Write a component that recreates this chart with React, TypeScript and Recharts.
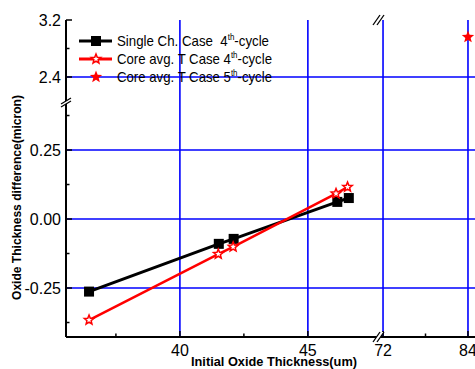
import React from "react";
import { ScatterChart, Scatter, XAxis, YAxis, ReferenceLine, Legend } from "recharts";

// measured values (x: initial oxide thickness um, y: difference micron)
const singleX = [36.45, 41.52, 42.1, 46.15, 46.6];
const singleY = [-0.263, -0.09, -0.072, 0.062, 0.076];
const core4X = [36.45, 41.5, 42.08, 46.1, 46.55];
const core4Y = [-0.366, -0.127, -0.101, 0.092, 0.116];
const core5X = [84];
const core5Y = [2.96];

const seriesNames = [
  ["Single Ch. Case  4", "th", "-cycle"],
  ["Core avg. T Case 4", "th", "-cycle"],
  ["Core avg. T Case 5", "th", "-cycle"],
];

const lowYMajor = [-0.25, 0, 0.25];
const lowYMinor = [-0.375, -0.125, 0.125, 0.375];
const upYMajor = [2.4, 3.2];
const upYMinor = [2.8];
const leftXMajor = [40, 45];
const leftXMinor = [37.5, 42.5];
const rightXMajor = [72, 84];
const rightXMinor = [78];

const leftXDomain = [35.55, 47.74];
const rightXDomain = [71.29, 85.98];
const lowYDomain = [-0.4275, 0.4276];
const upYDomain = [2.063, 3.2];

const FONT = "'Liberation Sans', Arial, sans-serif";
const W = 490;
const H = 369;
const BLUE = "#0000ff";

const zip = (xs: number[], ys: number[]) => xs.map((x, i) => ({ x, y: ys[i] }));
const singleData = zip(singleX, singleY);
const core4Data = zip(core4X, core4Y);
const core5Data = zip(core5X, core5Y);

function starPath(cx: number, cy: number, R: number, r: number) {
  let d = "";
  for (let i = 0; i < 10; i++) {
    const a = -Math.PI / 2 + (i * Math.PI) / 5;
    const rad = i % 2 === 0 ? R : r;
    d += (i === 0 ? "M" : "L") + (cx + rad * Math.cos(a)).toFixed(2) + "," + (cy + rad * Math.sin(a)).toFixed(2);
  }
  return d + "Z";
}

const Square = (p: any) => <rect x={p.cx - 5} y={p.cy - 5} width={10} height={10} fill="#000" />;
const HollowStar = (p: any) => (
  <path d={starPath(p.cx, p.cy, 5, 2.2)} fill="#fff" stroke="#ff0000" strokeWidth={1.5} />
);
const FullStar = (p: any) => <path d={starPath(p.cx, p.cy, 6.5, 2.8)} fill="#ff0000" />;

function yTick(major: number[], digits: number) {
  return (props: any) => {
    const { x, y, payload } = props;
    const isMajor = major.includes(payload.value);
    return (
      <g>
        <line x1={x} x2={x + (isMajor ? 6 : 3.5)} y1={y} y2={y} stroke="#000" strokeWidth={1.5} />
        {isMajor && (
          <text x={x - 5} y={y} dy="0.36em" textAnchor="end" fontSize={16} fontFamily={FONT} fill="#000">
            {payload.value.toFixed(digits)}
          </text>
        )}
      </g>
    );
  };
}

function xTick(major: number[], top: boolean) {
  return (props: any) => {
    const { x, y, payload } = props;
    const isMajor = major.includes(payload.value);
    const len = isMajor ? 6 : 3.5;
    return (
      <g>
        <line x1={x} x2={x} y1={y} y2={top ? y + len : y - len} stroke="#000" strokeWidth={1.5} />
        {isMajor && !top && (
          <text x={x} y={y + 19} textAnchor="middle" fontSize={16} fontFamily={FONT} fill="#000">
            {payload.value}
          </text>
        )}
      </g>
    );
  };
}

const axisLine = { stroke: "#000", strokeWidth: 2 };
const gridProps = { stroke: BLUE, strokeWidth: 1.6 };

function LegendBox() {
  const lens = [152, 155, 155];
  return (
    <svg width={220} height={56} style={{ display: "block", overflow: "visible" }}>
      {seriesNames.map((parts, i) => {
        const cy = 9 + i * 18;
        return (
          <g key={i}>
            {i === 0 && <line x1={0} x2={33} y1={cy} y2={cy} stroke="#000" strokeWidth={3} />}
            {i === 1 && <line x1={0} x2={33} y1={cy} y2={cy} stroke="#ff0000" strokeWidth={3} />}
            {i === 0 && <Square cx={17} cy={cy} />}
            {i === 1 && <HollowStar cx={17} cy={cy} />}
            {i === 2 && <FullStar cx={17} cy={cy} />}
            <text
              x={38}
              y={cy + 5}
              fontSize={15}
              fontFamily={FONT}
              fill="#000"
              textLength={lens[i]}
              lengthAdjust="spacingAndGlyphs"
              style={{ whiteSpace: "pre" }}
            >
              {parts[0]}
              <tspan fontSize={9} dy={-6}>{parts[1]}</tspan>
              <tspan dy={6}>{parts[2]}</tspan>
            </text>
          </g>
        );
      })}
    </svg>
  );
}

const layer: React.CSSProperties = { position: "absolute", left: 0, top: 0 };

export default function App() {
  return (
    <div style={{ position: "absolute", left: 0, top: 0, width: 475, height: 369, overflow: "hidden", background: "#fff" }}>
      {/* lower left: main data */}
      <div style={layer}>
        <ScatterChart width={W} height={H} margin={{ top: 101, right: W - 378, bottom: 2, left: 6 }}>
          <XAxis type="number" dataKey="x" domain={leftXDomain} ticks={[...leftXMajor, ...leftXMinor]} interval={0}
            height={30} tickSize={0} tickMargin={0} tickLine={false} axisLine={axisLine} tick={xTick(leftXMajor, false)} allowDataOverflow />
          <YAxis type="number" dataKey="y" domain={lowYDomain} ticks={[...lowYMajor, ...lowYMinor]} interval={0}
            width={60} tickSize={0} tickMargin={0} tickLine={false} axisLine={axisLine} tick={yTick(lowYMajor, 2)} allowDataOverflow />
          {leftXMajor.map((v) => <ReferenceLine key={"x" + v} x={v} {...gridProps} />)}
          {lowYMajor.map((v) => <ReferenceLine key={"y" + v} y={v} {...gridProps} />)}
          <Scatter name="single" data={singleData} fill="#000" line={{ stroke: "#000", strokeWidth: 3 }} shape={Square} isAnimationActive={false} />
          <Scatter name="core4" data={core4Data} fill="#ff0000" line={{ stroke: "#ff0000", strokeWidth: 2.5 }} shape={HollowStar} isAnimationActive={false} />
        </ScatterChart>
      </div>
      {/* upper left */}
      <div style={layer}>
        <ScatterChart width={W} height={H} margin={{ top: 20, right: W - 378, bottom: H - 101, left: 6 }}>
          <XAxis type="number" dataKey="x" orientation="top" domain={leftXDomain} ticks={[...leftXMajor, ...leftXMinor]} interval={0}
            height={0} tickSize={0} tickMargin={0} tickLine={false} axisLine={axisLine} tick={xTick(leftXMajor, true)} allowDataOverflow />
          <YAxis type="number" dataKey="y" domain={upYDomain} ticks={[...upYMajor, ...upYMinor]} interval={0}
            width={60} tickSize={0} tickMargin={0} tickLine={false} axisLine={axisLine} tick={yTick(upYMajor, 1)} allowDataOverflow />
          {leftXMajor.map((v) => <ReferenceLine key={"x" + v} x={v} {...gridProps} />)}
          {upYMajor.slice(0, 1).map((v) => <ReferenceLine key={"y" + v} y={v} {...gridProps} />)}
          <Legend layout="vertical" align="center" verticalAlign="middle" content={() => <LegendBox />}
            wrapperStyle={{ position: "absolute", left: 79, top: 32, width: 220, height: 56 }} />
        </ScatterChart>
      </div>
      {/* lower right */}
      <div style={layer}>
        <ScatterChart width={W} height={H} margin={{ top: 101, right: W - 482, bottom: 2, left: 378 }}>
          <XAxis type="number" dataKey="x" domain={rightXDomain} ticks={[...rightXMajor, ...rightXMinor]} interval={0}
            height={30} tickSize={0} tickMargin={0} tickLine={false} axisLine={axisLine} tick={xTick(rightXMajor, false)} allowDataOverflow />
          <YAxis type="number" dataKey="y" domain={lowYDomain} hide allowDataOverflow />
          {rightXMajor.map((v) => <ReferenceLine key={"x" + v} x={v} {...gridProps} />)}
          {lowYMajor.map((v) => <ReferenceLine key={"y" + v} y={v} {...gridProps} />)}
        </ScatterChart>
      </div>
      {/* upper right */}
      <div style={layer}>
        <ScatterChart width={W} height={H} margin={{ top: 20, right: W - 482, bottom: H - 101, left: 378 }}>
          <XAxis type="number" dataKey="x" orientation="top" domain={rightXDomain} ticks={[...rightXMajor, ...rightXMinor]} interval={0}
            height={0} tickSize={0} tickMargin={0} tickLine={false} axisLine={axisLine} tick={xTick(rightXMajor, true)} allowDataOverflow />
          <YAxis type="number" dataKey="y" domain={upYDomain} hide allowDataOverflow />
          {rightXMajor.map((v) => <ReferenceLine key={"x" + v} x={v} {...gridProps} />)}
          {upYMajor.slice(0, 1).map((v) => <ReferenceLine key={"y" + v} y={v} {...gridProps} />)}
          <Scatter name="core5" data={core5Data} fill="#ff0000" shape={FullStar} isAnimationActive={false} />
        </ScatterChart>
      </div>
      {/* axis titles and break marks */}
      <svg width={475} height={369} style={{ ...layer, pointerEvents: "none" }}>
        <text x={274} y={366} textAnchor="middle" fontSize={12.5} fontWeight="bold" fontFamily={FONT}
          textLength={166} lengthAdjust="spacingAndGlyphs">Initial Oxide Thickness(um)</text>
        <text transform="translate(21,197.5) rotate(-90)" textAnchor="middle" fontSize={12} fontWeight="bold" fontFamily={FONT}
          textLength={205} lengthAdjust="spacingAndGlyphs">Oxide Thickness difference(micron)</text>
        {/* y break */}
        <polygon points="61,104 71,98 71,101 61,107" fill="#fff" />
        <line x1={61} y1={104} x2={71} y2={98} stroke="#000" strokeWidth={1.3} />
        <line x1={61} y1={107} x2={71} y2={101} stroke="#000" strokeWidth={1.3} />
        {/* x breaks, bottom and top */}
        {[337, 20].map((yy) => (
          <g key={yy}>
            <polygon points={`${373},${yy + 5} ${380},${yy - 5} ${384},${yy - 5} ${377},${yy + 5}`} fill="#fff" />
            <line x1={373} y1={yy + 5} x2={380} y2={yy - 5} stroke="#000" strokeWidth={1.3} />
            <line x1={377} y1={yy + 5} x2={384} y2={yy - 5} stroke="#000" strokeWidth={1.3} />
          </g>
        ))}
      </svg>
    </div>
  );
}
